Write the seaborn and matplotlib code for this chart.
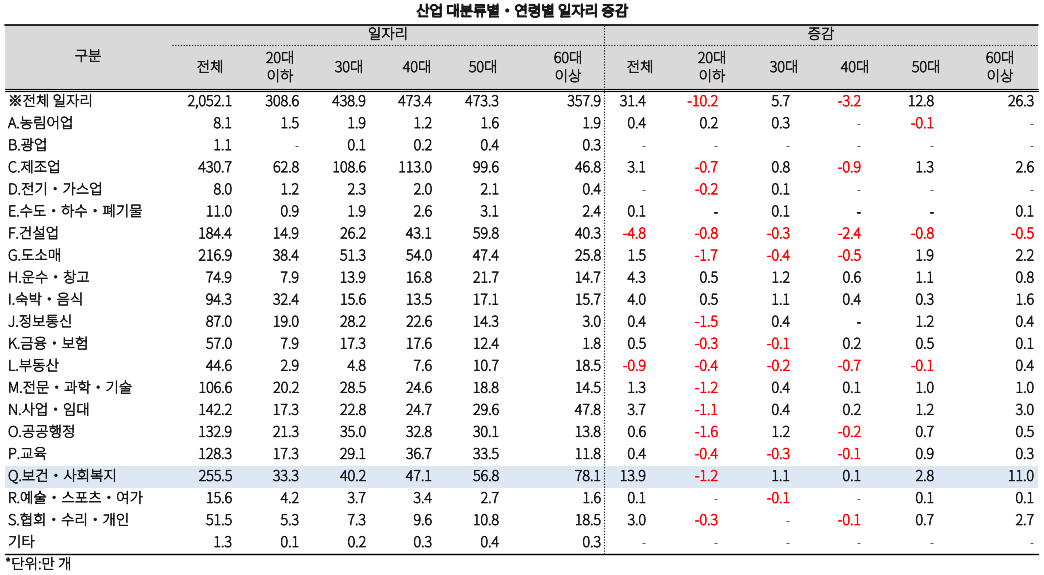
import glob
import seaborn as sns
import matplotlib.pyplot as plt
import matplotlib.patheffects as pe
from matplotlib import font_manager as fm

sns.set_theme(style="white")

# register CJK / gothic fonts from disk, then pick a plain Korean sans
for p in glob.glob("/usr/share/fonts/**/*", recursive=True) + glob.glob("/usr/local/share/fonts/**/*", recursive=True):
    low = p.lower()
    if ("cjk" in low or "nanumgothic" in low or "nanumbarun" in low) and low.endswith((".ttf", ".otf", ".ttc")):
        try:
            fm.fontManager.addfont(p)
        except Exception:
            pass
names = sorted({f.name for f in fm.fontManager.ttflist})
pick = None
for pref in ["Noto Sans CJK KR", "Noto Sans KR", "NanumGothic", "Nanum Gothic", "NanumBarunGothic"]:
    if pref in names:
        pick = pref
        break
if pick is None:
    cjk = [n for n in names if "CJK" in n and "Serif" not in n]
    pick = cjk[0] if cjk else "DejaVu Sans"
plt.rcParams["font.family"] = [pick, "DejaVu Sans"]

title = "산업 대분류별・연령별 일자리 증감"
groups = ["일자리", "증감"]
age_cols = ["전체", "20대\n이하", "30대", "40대", "50대", "60대\n이상"]
categories = ["※전체 일자리", "A.농림어업", "B.광업", "C.제조업", "D.전기・가스업",
              "E.수도・하수・폐기물", "F.건설업", "G.도소매", "H.운수・창고", "I.숙박・음식",
              "J.정보통신", "K.금융・보험", "L.부동산", "M.전문・과학・기술", "N.사업・임대",
              "O.공공행정", "P.교육", "Q.보건・사회복지", "R.예술・스포츠・여가",
              "S.협회・수리・개인", "기타"]
jobs = [
    ["2,052.1", "308.6", "438.9", "473.4", "473.3", "357.9"],
    ["8.1", "1.5", "1.9", "1.2", "1.6", "1.9"],
    ["1.1", "-", "0.1", "0.2", "0.4", "0.3"],
    ["430.7", "62.8", "108.6", "113.0", "99.6", "46.8"],
    ["8.0", "1.2", "2.3", "2.0", "2.1", "0.4"],
    ["11.0", "0.9", "1.9", "2.6", "3.1", "2.4"],
    ["184.4", "14.9", "26.2", "43.1", "59.8", "40.3"],
    ["216.9", "38.4", "51.3", "54.0", "47.4", "25.8"],
    ["74.9", "7.9", "13.9", "16.8", "21.7", "14.7"],
    ["94.3", "32.4", "15.6", "13.5", "17.1", "15.7"],
    ["87.0", "19.0", "28.2", "22.6", "14.3", "3.0"],
    ["57.0", "7.9", "17.3", "17.6", "12.4", "1.8"],
    ["44.6", "2.9", "4.8", "7.6", "10.7", "18.5"],
    ["106.6", "20.2", "28.5", "24.6", "18.8", "14.5"],
    ["142.2", "17.3", "22.8", "24.7", "29.6", "47.8"],
    ["132.9", "21.3", "35.0", "32.8", "30.1", "13.8"],
    ["128.3", "17.3", "29.1", "36.7", "33.5", "11.8"],
    ["255.5", "33.3", "40.2", "47.1", "56.8", "78.1"],
    ["15.6", "4.2", "3.7", "3.4", "2.7", "1.6"],
    ["51.5", "5.3", "7.3", "9.6", "10.8", "18.5"],
    ["1.3", "0.1", "0.2", "0.3", "0.4", "0.3"],
]
change = [
    ["31.4", "-10.2", "5.7", "-3.2", "12.8", "26.3"],
    ["0.4", "0.2", "0.3", "-", "-0.1", "-"],
    ["-", "-", "-", "-", "-", "-"],
    ["3.1", "-0.7", "0.8", "-0.9", "1.3", "2.6"],
    ["-", "-0.2", "0.1", "-", "-", "-"],
    ["0.1", "-", "0.1", "-", "-", "0.1"],
    ["-4.8", "-0.8", "-0.3", "-2.4", "-0.8", "-0.5"],
    ["1.5", "-1.7", "-0.4", "-0.5", "1.9", "2.2"],
    ["4.3", "0.5", "1.2", "0.6", "1.1", "0.8"],
    ["4.0", "0.5", "1.1", "0.4", "0.3", "1.6"],
    ["0.4", "-1.5", "0.4", "-", "1.2", "0.4"],
    ["0.5", "-0.3", "-0.1", "0.2", "0.5", "0.1"],
    ["-0.9", "-0.4", "-0.2", "-0.7", "-0.1", "0.4"],
    ["1.3", "-1.2", "0.4", "0.1", "1.0", "1.0"],
    ["3.7", "-1.1", "0.4", "0.2", "1.2", "3.0"],
    ["0.6", "-1.6", "1.2", "-0.2", "0.7", "0.5"],
    ["0.4", "-0.4", "-0.3", "-0.1", "0.9", "0.3"],
    ["13.9", "-1.2", "1.1", "0.1", "2.8", "11.0"],
    ["0.1", "-", "-0.1", "-", "0.1", "0.1"],
    ["3.0", "-0.3", "-", "-0.1", "0.7", "2.7"],
    ["-", "-", "-", "-", "-", "-"],
]
highlight = "Q.보건・사회복지"
note = "*단위:만 개"

# layout (pixel coords)
W, H = 1044, 575
fig = plt.figure(figsize=(W / 100, H / 100), dpi=100)
ax = fig.add_axes([0, 0, 1, 1])
ax.set_xlim(0, W)
ax.set_ylim(H, 0)
ax.axis("off")

fs = 10.5
txt = "#1a1a1a"


def put(x, y, s, ha="center", color=txt, stroke=0.5, **kw):
    # the only CJK weight available is thin, so thicken it a little
    ax.text(x, y, s, ha=ha, va="center", fontsize=fs, color=color,
            path_effects=[pe.withStroke(linewidth=stroke, foreground=color)], **kw)


left, right = 5, 1038
top, mid, hdr_bot = 25, 45, 90
row_h = 22.05
y0 = 102
jobs_x = [232, 299, 366, 432, 499, 601]
chg_x = [646, 718, 790, 861, 934, 1034]
hdr_x_jobs = [210, 280, 349, 417, 483, 568]
hdr_x_chg = [640, 712, 784, 855, 926, 1000]
sep = 604

put(W / 2, 12, title, stroke=1.1)
ax.fill_between([left, right], top, hdr_bot, color="#d9d9d9", lw=0)
ax.plot([left, right], [top, top], color="black", lw=1.2)
ax.plot([left, right], [hdr_bot - 1.5, hdr_bot - 1.5], color="black", lw=0.8)
ax.plot([left, right], [hdr_bot + 1, hdr_bot + 1], color="black", lw=0.8)
ax.plot([172, right], [mid, mid], color="black", lw=0.8, ls=(0, (1, 1.5)))
ax.plot([sep, sep], [top, 554], color="black", lw=0.8, ls=(0, (1, 1.5)))

put(88, 57, "구분")
put(388, 35, groups[0])
put(821, 35, groups[1])
for i, c in enumerate(age_cols):
    for xs in (hdr_x_jobs, hdr_x_chg):
        put(xs[i], 68, c, linespacing=1.2)

for r, cat in enumerate(categories):
    y = y0 + r * row_h
    if cat == highlight:
        ax.fill_between([left, right], y - row_h / 2, y + row_h / 2, color="#dde8f4", lw=0)
    put(8, y, cat, ha="left")
    for i in range(6):
        put(jobs_x[i], y, jobs[r][i], ha="right")
        v = change[r][i]
        col = "#ff0000" if v.startswith("-") and v != "-" else txt
        put(chg_x[i], y, v, ha="right", color=col)

ax.plot([left, right], [554, 554], color="black", lw=1.0)
put(5, 565, note, ha="left")

fig.savefig("out.png", dpi=100)
